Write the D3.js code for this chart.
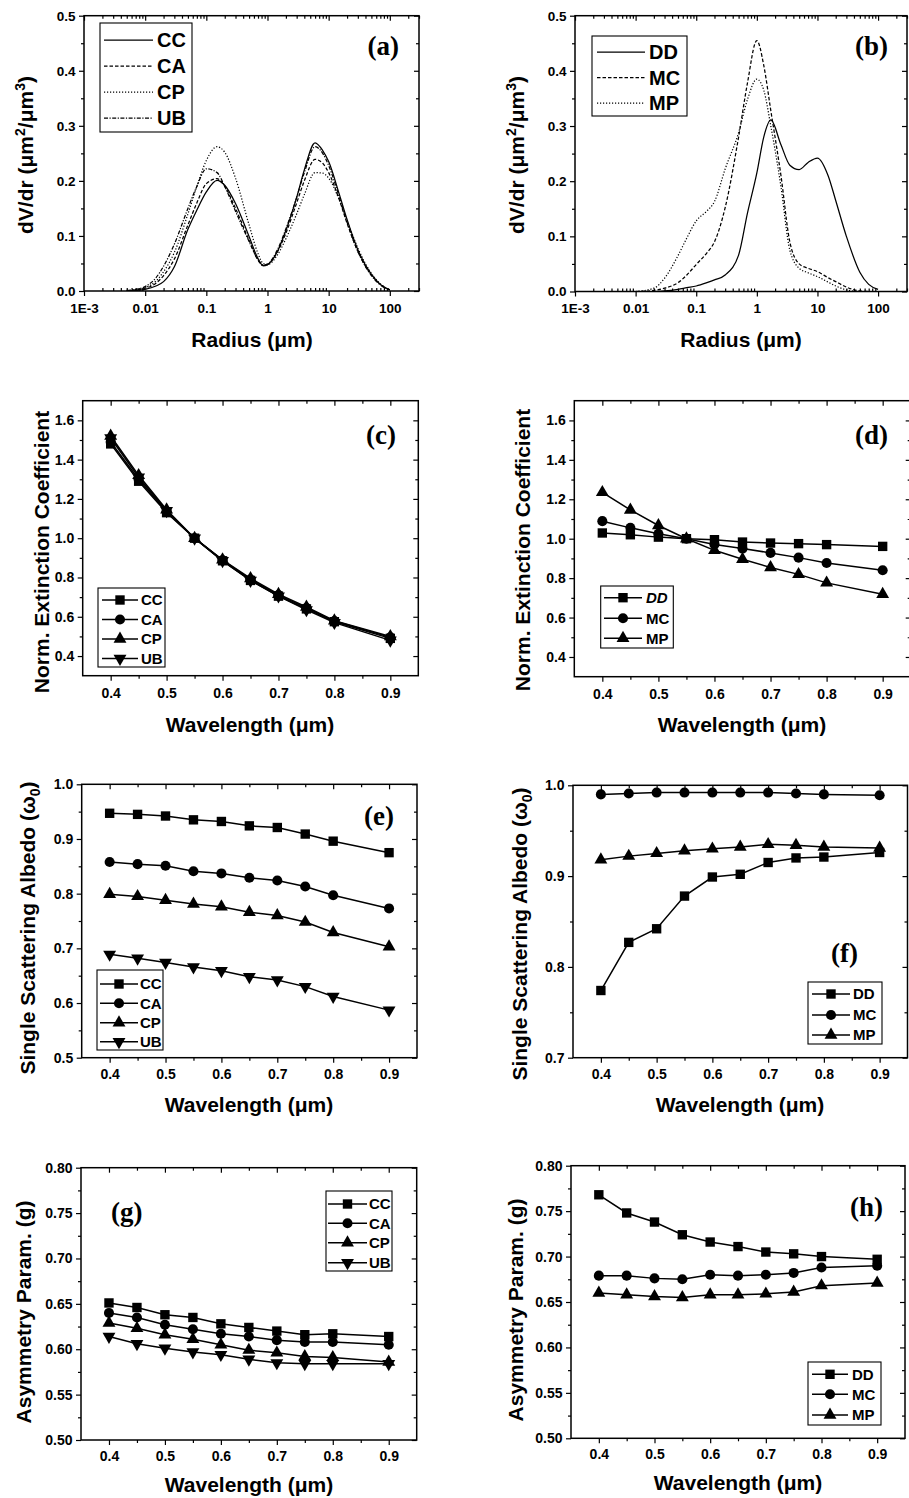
<!DOCTYPE html>
<html><head><meta charset="utf-8">
<script src="https://cdn.jsdelivr.net/npm/d3@7"></script>
<style>body{margin:0;background:#fff} svg{display:block}</style>
</head><body>
<svg id="c" width="909" height="1498"></svg>
<script>
// ---------- DATA ----------
// (a) volume size distributions
const radiusA = [0.005,0.007,0.01,0.015,0.02,0.03,0.05,0.07,0.1,0.15,0.2,0.3,0.5,0.7,0.85,1,1.5,2,3,4,6,8,10,15,20,30,50,70,100];
const dvCC = [0.0,0.001,0.003,0.009,0.017,0.044,0.112,0.147,0.18,0.201,0.192,0.159,0.099,0.059,0.046,0.048,0.075,0.11,0.17,0.22,0.269,0.255,0.235,0.175,0.13,0.075,0.03,0.012,0.002];
const dvCA = [0.0,0.002,0.005,0.014,0.028,0.058,0.12,0.16,0.195,0.204,0.19,0.15,0.092,0.056,0.046,0.048,0.074,0.105,0.16,0.2,0.239,0.232,0.215,0.165,0.123,0.072,0.029,0.012,0.002];
const dvCP = [0.001,0.002,0.006,0.018,0.035,0.07,0.14,0.19,0.237,0.262,0.252,0.205,0.12,0.068,0.05,0.048,0.068,0.095,0.14,0.175,0.215,0.214,0.205,0.165,0.128,0.078,0.032,0.013,0.002];
const dvUB = [0.001,0.003,0.008,0.024,0.045,0.085,0.15,0.19,0.222,0.215,0.19,0.145,0.09,0.057,0.047,0.049,0.078,0.113,0.17,0.215,0.262,0.25,0.228,0.17,0.125,0.072,0.028,0.011,0.002];
// (b)
const radiusB = [0.01,0.02,0.03,0.05,0.07,0.1,0.15,0.2,0.3,0.5,0.7,1,1.3,1.7,2.5,3.5,5,7,10,15,20,30,50,70,100];
const dvDD = [0,0,0.001,0.004,0.007,0.01,0.016,0.021,0.03,0.066,0.142,0.215,0.28,0.311,0.266,0.229,0.221,0.234,0.242,0.21,0.165,0.1,0.035,0.013,0.004];
const dvMC = [0,0.002,0.006,0.016,0.03,0.049,0.07,0.09,0.152,0.28,0.378,0.455,0.41,0.328,0.21,0.09,0.05,0.042,0.036,0.025,0.018,0.008,0.001,0,0];
const dvMP = [0,0.006,0.024,0.065,0.097,0.128,0.146,0.163,0.222,0.288,0.348,0.385,0.365,0.3,0.19,0.075,0.042,0.034,0.027,0.017,0.01,0.003,0,0,0];
// (c)-(h) optical properties
const wl = [0.4,0.45,0.5,0.55,0.6,0.65,0.7,0.75,0.8,0.9];
const extCC = [1.48,1.29,1.13,1.0,0.885,0.785,0.705,0.64,0.575,0.49];
const extCA = [1.49,1.30,1.135,1.0,0.888,0.79,0.71,0.645,0.578,0.495];
const extCP = [1.52,1.32,1.145,1.0,0.89,0.795,0.715,0.65,0.58,0.50];
const extUB = [1.51,1.31,1.14,1.0,0.885,0.785,0.705,0.635,0.57,0.48];
const extDD = [1.029,1.02,1.008,1.0,0.995,0.983,0.978,0.975,0.97,0.961];
const extMC = [1.089,1.055,1.025,1.0,0.971,0.95,0.928,0.904,0.877,0.84];
const extMP = [1.235,1.146,1.067,1.0,0.941,0.896,0.854,0.819,0.776,0.718];
const ssaCC = [0.947,0.945,0.942,0.935,0.932,0.924,0.921,0.909,0.896,0.875];
const ssaCA = [0.858,0.854,0.851,0.841,0.837,0.829,0.824,0.813,0.797,0.773];
const ssaCP = [0.799,0.795,0.788,0.781,0.776,0.766,0.76,0.748,0.729,0.703];
const ssaUB = [0.689,0.682,0.674,0.666,0.659,0.648,0.642,0.63,0.612,0.587];
const ssaDD = [0.774,0.827,0.842,0.878,0.899,0.902,0.915,0.92,0.921,0.926];
const ssaMC = [0.990,0.991,0.992,0.992,0.992,0.992,0.992,0.991,0.990,0.989];
const ssaMP = [0.918,0.922,0.925,0.928,0.930,0.932,0.935,0.934,0.932,0.931];
const asyCC = [0.651,0.646,0.638,0.635,0.628,0.624,0.620,0.616,0.617,0.614];
const asyCA = [0.640,0.635,0.627,0.622,0.617,0.614,0.610,0.608,0.608,0.605];
const asyCP = [0.629,0.623,0.616,0.611,0.605,0.599,0.596,0.592,0.591,0.586];
const asyUB = [0.614,0.606,0.601,0.597,0.594,0.589,0.585,0.584,0.584,0.584];
const asyDD = [0.768,0.748,0.738,0.724,0.716,0.711,0.705,0.703,0.700,0.697];
const asyMC = [0.679,0.679,0.676,0.675,0.680,0.679,0.680,0.682,0.688,0.690];
const asyMP = [0.660,0.658,0.656,0.655,0.658,0.658,0.659,0.661,0.668,0.671];

// tick values / labels
const logTicks = [0.001,0.01,0.1,1,10,100];
const logLabels = ["1E-3","0.01","0.1","1","10","100"];
const logMinor = [];
[0.001,0.01,0.1,1,10,100].forEach(d=>{for(let k=2;k<=9;k++){if(d*k<=300)logMinor.push(d*k);}});
const wlTicks = [0.4,0.5,0.6,0.7,0.8,0.9];
const wlLabels = ["0.4","0.5","0.6","0.7","0.8","0.9"];
const wlMinor = [0.45,0.55,0.65,0.75,0.85];
const dvTicks = [0,0.1,0.2,0.3,0.4,0.5];
const dvLabels = ["0.0","0.1","0.2","0.3","0.4","0.5"];
const dvMinor = [0.05,0.15,0.25,0.35,0.45];
const extTicks = [0.4,0.6,0.8,1.0,1.2,1.4,1.6];
const extLabels = ["0.4","0.6","0.8","1.0","1.2","1.4","1.6"];
const extMinor = [0.5,0.7,0.9,1.1,1.3,1.5];
const ssaTicksE = [0.5,0.6,0.7,0.8,0.9,1.0];
const ssaLabelsE = ["0.5","0.6","0.7","0.8","0.9","1.0"];
const ssaMinorE = [0.55,0.65,0.75,0.85,0.95];
const ssaTicksF = [0.7,0.8,0.9,1.0];
const ssaLabelsF = ["0.7","0.8","0.9","1.0"];
const ssaMinorF = [0.75,0.85,0.95];
const asyTicks = [0.5,0.55,0.6,0.65,0.7,0.75,0.8];
const asyLabels = ["0.50","0.55","0.60","0.65","0.70","0.75","0.80"];
const asyMinor = [0.525,0.575,0.625,0.675,0.725,0.775];

// ---------- DRAWING ----------
const svg = d3.select('#c');
const FONT = '"Liberation Sans", Arial, Helvetica, sans-serif';
const SERIF = '"Liberation Serif", "Times New Roman", serif';

function symPath(m, size){
  const t = m==='square'?d3.symbolSquare : m==='circle'?d3.symbolCircle : d3.symbolTriangle;
  const sz = size || (m==='square'?88 : m==='circle'?80 : 72);
  return d3.symbol().type(t).size(sz)();
}

function drawPanel(p){
  const x = p.xlog ? d3.scaleLog().domain(p.xdom).range([p.L,p.R]) : d3.scaleLinear().domain(p.xdom).range([p.L,p.R]);
  const y = d3.scaleLinear().domain(p.ydom).range([p.B,p.T]);
  const g = svg.append('g');
  const fs = p.tickFs || 14;
  function ax(axis, vals, size, tx, ty, labels, pad){
    axis.tickValues(vals).tickSize(size).tickSizeOuter(0).tickPadding(pad||4)
        .tickFormat(labels ? ((d,i)=>labels[i]) : (()=>''));
    const a = g.append('g').attr('transform',`translate(${tx},${ty})`).call(axis);
    a.select('.domain').remove();
    a.selectAll('.tick line').attr('stroke','#000').attr('stroke-width',1.2);
    a.selectAll('.tick text').attr('fill','#000')
      .style('font-family',FONT).style('font-weight','bold').style('font-size',fs+'px');
  }
  ax(d3.axisBottom(x), p.xt, 5, 0, p.B, p.xl, p.bpad||6);
  ax(d3.axisBottom(x), p.xm, p.xlog ? -3 : 3, 0, p.B);
  ax(d3.axisTop(x), p.xt, -5, 0, p.T);
  ax(d3.axisTop(x), p.xm, -3, 0, p.T);
  ax(d3.axisLeft(y), p.yt, 5, p.L, 0, p.yl, 3.5);
  ax(d3.axisLeft(y), p.ym, 3, p.L, 0);
  ax(d3.axisRight(y), p.yt, -5, p.R, 0);
  ax(d3.axisRight(y), p.ym, -3, p.R, 0);

  g.append('rect').attr('x',p.L).attr('y',p.T).attr('width',p.R-p.L).attr('height',p.B-p.T)
    .attr('fill','none').attr('stroke','#000').attr('stroke-width',1.5);

  const clipId = 'clip'+p.id;
  svg.append('clipPath').attr('id',clipId).append('rect')
    .attr('x',p.L).attr('y',p.T-8).attr('width',p.R-p.L).attr('height',p.B-p.T+8);
  const dg = g.append('g');
  p.series.forEach(s=>{
    const pts = s.xs.map((xv,i)=>[xv, s.ys[i]]);
    const line = d3.line().x(d=>x(d[0])).y(d=>y(d[1]));
    if (s.smooth) line.curve(d3.curveMonotoneX);
    dg.append('path').attr('d', line(pts)).attr('fill','none').attr('stroke','#000')
      .attr('stroke-width', s.lw||1.5).attr('stroke-dasharray', s.dash||null)
      .attr('clip-path', s.smooth ? `url(#${clipId})` : null);
    if (s.marker){
      dg.selectAll(null).data(pts).enter().append('path')
        .attr('d', symPath(s.marker))
        .attr('transform', d=>`translate(${x(d[0])},${y(d[1])})${s.marker==='down'?' rotate(180)':''}`)
        .attr('fill','#000');
    }
  });

  // legend
  const lg = p.legend;
  g.append('rect').attr('x',lg.x).attr('y',lg.y).attr('width',lg.w).attr('height',lg.h)
    .attr('fill','#fff').attr('stroke','#000').attr('stroke-width',1.1);
  p.series.forEach((s,i)=>{
    const yy = lg.rows[i];
    g.append('line').attr('x1',lg.s1).attr('x2',lg.s2).attr('y1',yy).attr('y2',yy)
      .attr('stroke','#000').attr('stroke-width', s.lw||1.5).attr('stroke-dasharray', s.dash||null);
    if (s.marker){
      g.append('path').attr('d', symPath(s.marker))
        .attr('transform', `translate(${(lg.s1+lg.s2)/2},${yy})${s.marker==='down'?' rotate(180)':''}`)
        .attr('fill','#000');
    }
    g.append('text').attr('x',lg.tx).attr('y',yy).attr('dy','0.36em')
      .style('font-family',FONT).style('font-weight','bold').style('font-size',lg.fs+'px')
      .style('font-style', s.italic?'italic':'normal').text(s.name);
  });

  // panel label
  g.append('text').attr('x',p.lab.x).attr('y',p.lab.y).attr('text-anchor',p.lab.anchor||'end')
    .style('font-family',SERIF).style('font-weight','bold').style('font-size','27px').text(p.lab.t);

  // x title
  g.append('text').attr('x',p.xtitle.x).attr('y',p.xtitle.y).attr('text-anchor','middle')
    .style('font-family',FONT).style('font-weight','bold').style('font-size','21px')
    .text(p.xtitle.t);

  // y title
  const yt = g.append('text').attr('transform',`translate(${p.ytitle.x},${p.ytitle.y}) rotate(-90)`)
    .attr('text-anchor','middle').attr('dy','0.36em')
    .style('font-family',FONT).style('font-weight','bold').style('font-size','21px');
  p.ytitle.parts.forEach(pt=>{
    const ts = yt.append('tspan').text(pt.t);
    if (pt.sup){ ts.attr('dy',-8).style('font-size','14px'); }
    if (pt.sub){ ts.attr('dy',5).style('font-size','14px'); }
    if (pt.back) ts.attr('dy', pt.back);
  });
}

const wlTitle = "Wavelength (\u03bcm)";
const dvParts = [{t:"dV/dr (\u03bcm"},{t:"2",sup:true},{t:"/\u03bcm",back:8},{t:"3",sup:true},{t:")",back:8}];
const extParts = [{t:"Norm. Extinction Coefficient"}];
const ssaParts = [{t:"Single Scattering Albedo (\u03c9"},{t:"0",sub:true},{t:")",back:-5}];
const asyParts = [{t:"Asymmetry Param. (g)"}];

const lw2 = 1.25;
// (a)
drawPanel({id:'a', L:84, R:419, T:15.7, B:291, xlog:true, xdom:[0.001,300], ydom:[0,0.5],
  xt:logTicks, xl:logLabels, xm:logMinor, yt:dvTicks, yl:dvLabels, ym:dvMinor, tickFs:13.5, bpad:7,
  series:[
    {name:'CC', xs:radiusA, ys:dvCC, smooth:true, lw:lw2},
    {name:'CA', xs:radiusA, ys:dvCA, smooth:true, lw:lw2, dash:'3.5,2'},
    {name:'CP', xs:radiusA, ys:dvCP, smooth:true, lw:lw2, dash:'1.2,1.8'},
    {name:'UB', xs:radiusA, ys:dvUB, smooth:true, lw:lw2, dash:'4,1.5,1.2,1.5'}],
  legend:{x:100,y:23,w:92,h:109,s1:104,s2:153,tx:157,rows:[40,66,92,118],fs:20},
  lab:{t:'(a)',x:399,y:55}, xtitle:{t:'Radius (\u03bcm)',x:252,y:347}, ytitle:{x:25,y:155,parts:dvParts}});
// (b)
drawPanel({id:'b', L:575, R:907, T:15.7, B:291.5, xlog:true, xdom:[0.001,300], ydom:[0,0.5],
  xt:logTicks, xl:logLabels, xm:logMinor, yt:dvTicks, yl:dvLabels, ym:dvMinor, tickFs:13.5, bpad:7,
  series:[
    {name:'DD', xs:radiusB, ys:dvDD, smooth:true, lw:lw2},
    {name:'MC', xs:radiusB, ys:dvMC, smooth:true, lw:lw2, dash:'3.5,2'},
    {name:'MP', xs:radiusB, ys:dvMP, smooth:true, lw:lw2, dash:'1.2,1.8'}],
  legend:{x:592,y:36,w:95,h:80,s1:597,s2:645,tx:649,rows:[52,77.5,103],fs:20},
  lab:{t:'(b)',x:888,y:55}, xtitle:{t:'Radius (\u03bcm)',x:741,y:347}, ytitle:{x:516,y:155,parts:dvParts}});
// (c)
drawPanel({id:'c', L:82.7, R:418.3, T:400.7, B:675.7, xdom:[0.35,0.95], ydom:[0.3,1.7],
  xt:wlTicks, xl:wlLabels, xm:wlMinor, yt:extTicks, yl:extLabels, ym:extMinor, bpad:7,
  series:[
    {name:'CC', xs:wl, ys:extCC, marker:'square'},
    {name:'CA', xs:wl, ys:extCA, marker:'circle'},
    {name:'CP', xs:wl, ys:extCP, marker:'up'},
    {name:'UB', xs:wl, ys:extUB, marker:'down'}],
  legend:{x:98,y:588,w:67,h:79,s1:102,s2:138,tx:141,rows:[600,619.5,639,658.5],fs:15},
  lab:{t:'(c)',x:396,y:444}, xtitle:{t:wlTitle,x:250,y:732}, ytitle:{x:41,y:552,parts:extParts}});
// (d)
drawPanel({id:'d', L:574.3, R:910.7, T:400.7, B:676.7, xdom:[0.35,0.95], ydom:[0.3,1.7],
  xt:wlTicks, xl:wlLabels, xm:wlMinor, yt:extTicks, yl:extLabels, ym:extMinor, bpad:7,
  series:[
    {name:'DD', xs:wl, ys:extDD, marker:'square', italic:true},
    {name:'MC', xs:wl, ys:extMC, marker:'circle'},
    {name:'MP', xs:wl, ys:extMP, marker:'up'}],
  legend:{x:600.7,y:586,w:72.6,h:62,s1:604,s2:642,tx:646,rows:[597.7,618.3,638.3],fs:15},
  lab:{t:'(d)',x:888,y:444}, xtitle:{t:wlTitle,x:742,y:732}, ytitle:{x:522,y:550,parts:extParts}});
// (e)
drawPanel({id:'e', L:81.7, R:417, T:784.3, B:1057.7, xdom:[0.35,0.95], ydom:[0.5,1.0],
  xt:wlTicks, xl:wlLabels, xm:wlMinor, yt:ssaTicksE, yl:ssaLabelsE, ym:ssaMinorE,
  series:[
    {name:'CC', xs:wl, ys:ssaCC, marker:'square'},
    {name:'CA', xs:wl, ys:ssaCA, marker:'circle'},
    {name:'CP', xs:wl, ys:ssaCP, marker:'up'},
    {name:'UB', xs:wl, ys:ssaUB, marker:'down'}],
  legend:{x:97,y:970,w:66,h:80,s1:100,s2:138,tx:140,rows:[984,1003.3,1022.7,1041.7],fs:15},
  lab:{t:'(e)',x:394,y:825}, xtitle:{t:wlTitle,x:249,y:1112}, ytitle:{x:27,y:928,parts:ssaParts}});
// (f)
drawPanel({id:'f', L:573, R:907.5, T:785.3, B:1057.7, xdom:[0.35,0.95], ydom:[0.7,1.0],
  xt:wlTicks, xl:wlLabels, xm:wlMinor, yt:ssaTicksF, yl:ssaLabelsF, ym:ssaMinorF,
  series:[
    {name:'DD', xs:wl, ys:ssaDD, marker:'square'},
    {name:'MC', xs:wl, ys:ssaMC, marker:'circle'},
    {name:'MP', xs:wl, ys:ssaMP, marker:'up'}],
  legend:{x:808,y:982,w:74,h:62,s1:812,s2:850,tx:853,rows:[994,1015,1035],fs:15},
  lab:{t:'(f)',x:858,y:962}, xtitle:{t:wlTitle,x:740,y:1112}, ytitle:{x:519,y:934,parts:ssaParts}});
// (g)
drawPanel({id:'g', L:81, R:416.7, T:1167.7, B:1440, xdom:[0.35,0.95], ydom:[0.5,0.8],
  xt:wlTicks, xl:wlLabels, xm:wlMinor, yt:asyTicks, yl:asyLabels, ym:asyMinor,
  series:[
    {name:'CC', xs:wl, ys:asyCC, marker:'square'},
    {name:'CA', xs:wl, ys:asyCA, marker:'circle'},
    {name:'CP', xs:wl, ys:asyCP, marker:'up'},
    {name:'UB', xs:wl, ys:asyUB, marker:'down'}],
  legend:{x:326,y:1191,w:66,h:80,s1:328,s2:367,tx:369,rows:[1204,1223.3,1242.7,1262.7],fs:15},
  lab:{t:'(g)',x:111,y:1221,anchor:'start'}, xtitle:{t:wlTitle,x:249,y:1492}, ytitle:{x:23,y:1312,parts:asyParts}});
// (h)
drawPanel({id:'h', L:571, R:905, T:1165.7, B:1438.3, xdom:[0.35,0.95], ydom:[0.5,0.8],
  xt:wlTicks, xl:wlLabels, xm:wlMinor, yt:asyTicks, yl:asyLabels, ym:asyMinor,
  series:[
    {name:'DD', xs:wl, ys:asyDD, marker:'square'},
    {name:'MC', xs:wl, ys:asyMC, marker:'circle'},
    {name:'MP', xs:wl, ys:asyMP, marker:'up'}],
  legend:{x:808,y:1362,w:73,h:63,s1:812,s2:848,tx:852,rows:[1374.3,1394.3,1415],fs:15},
  lab:{t:'(h)',x:883,y:1216}, xtitle:{t:wlTitle,x:738,y:1490}, ytitle:{x:515,y:1310,parts:asyParts}});
</script>
</body></html>
